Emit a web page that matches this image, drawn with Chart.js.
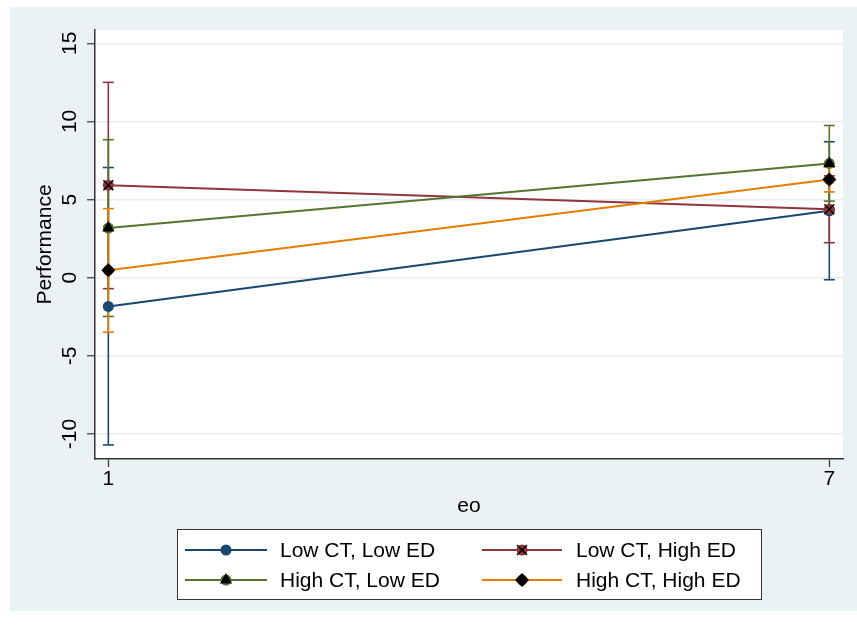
<!DOCTYPE html>
<html>
<head>
<meta charset="utf-8">
<script src="https://cdn.jsdelivr.net/npm/chart.js@4.4.1/dist/chart.umd.min.js"></script>
<style>
  html, body { margin: 0; padding: 0; background: #fff; }
  #wrap { width: 857px; height: 626px; }
</style>
</head>
<body>
<div id="wrap"><canvas id="marginsChart"></canvas></div>
<script>
// Data
const eoValues = [1, 7];
const seriesNames = ['Low CT, Low ED', 'Low CT, High ED', 'High CT, Low ED', 'High CT, High ED'];

// predicted performance
const lowLow = [-1.84, 4.28];
const lowHigh = [5.92, 4.38];
const highLow = [3.18, 7.31];
const highHigh = [0.47, 6.28];

// confidence interval bounds
const lowLowLo = [-10.7, -0.13];
const lowLowHi = [7.05, 8.70];
const lowHighLo = [-0.70, 2.24];
const lowHighHi = [12.5, 6.52];
const highLowLo = [-2.48, 4.90];
const highLowHi = [8.83, 9.74];
const highHighLo = [-3.49, 5.49];
const highHighHi = [4.42, 7.07];

const yTicks = [-10, -5, 0, 5, 10, 15];
const xTicks = [1, 7];

// stata s2color palette
const colors = ['#1A476F', '#90353B', '#55752F', '#E37E00'];
const overlayStyles = [null, 'crossRot', 'triangle', 'rectRot'];

const means = [lowLow, lowHigh, highLow, highHigh];
const lows = [lowLowLo, lowHighLo, highLowLo, highHighLo];
const highs = [lowLowHi, lowHighHi, highLowHi, highHighHi];

const FONT = "'Liberation Sans', Arial, Helvetica, sans-serif";

function toPoints(vals) {
    return eoValues.map((x, i) => ({ x: x, y: vals[i] }));
}

const datasets = [];

// error bars (vertical line + caps)
means.forEach((m, s) => {
    eoValues.forEach((x, i) => {
        datasets.push({
            type: 'line',
            data: [{ x: x, y: lows[s][i] }, { x: x, y: highs[s][i] }],
            borderColor: colors[s],
            borderWidth: 1.6,
            pointStyle: 'line',
            pointRadius: 5.5,
            pointBorderColor: colors[s],
            pointBorderWidth: 1.6,
            order: 20 - s
        });
    });
});

// connected lines with colored circles
means.forEach((m, s) => {
    datasets.push({
        type: 'line',
        label: seriesNames[s],
        data: toPoints(m),
        borderColor: colors[s],
        borderWidth: 2,
        pointStyle: 'circle',
        pointRadius: 5.5,
        pointBackgroundColor: colors[s],
        pointBorderColor: colors[s],
        pointBorderWidth: 0,
        order: 10 - s
    });
});

// black symbols on top
means.forEach((m, s) => {
    if (!overlayStyles[s]) return;
    datasets.push({
        type: 'line',
        data: toPoints(m),
        showLine: false,
        pointStyle: overlayStyles[s],
        pointRadius: overlayStyles[s] === 'crossRot' ? 7 : 7,
        pointBackgroundColor: '#000',
        pointBorderColor: '#000',
        pointBorderWidth: overlayStyles[s] === 'crossRot' ? 1.5 : 0,
        order: 0
    });
});

// background + legend
const stataFrame = {
    id: 'stataFrame',
    beforeDraw(chart) {
        const c = chart.ctx;
        const a = chart.chartArea;
        c.save();
        c.fillStyle = '#EAF2F3';
        c.fillRect(10, 7, 847, 604);
        c.fillStyle = '#ffffff';
        c.fillRect(a.left, a.top, a.right - a.left, a.bottom - a.top);
        c.restore();
    },
    afterDraw(chart) {
        const c = chart.ctx;
        c.save();
        // box
        c.fillStyle = '#ffffff';
        c.fillRect(177, 529, 584, 70);
        c.strokeStyle = '#333333';
        c.lineWidth = 1;
        c.strokeRect(177.5, 529.5, 584, 70);

        const rows = [550, 580];
        const cols = [{ l0: 185, l1: 267, t: 280 }, { l0: 482, l1: 562, t: 576 }];
        const layout = [[0, 0, 0], [1, 0, 1], [2, 1, 0], [3, 1, 1]];
        layout.forEach(([s, r, k]) => {
            const y = rows[r];
            const col = cols[k];
            const mx = (col.l0 + col.l1) / 2;
            c.strokeStyle = colors[s];
            c.lineWidth = 2;
            c.beginPath();
            c.moveTo(col.l0, y);
            c.lineTo(col.l1, y);
            c.stroke();
            c.fillStyle = colors[s];
            c.beginPath();
            c.arc(mx, y, 5.5, 0, Math.PI * 2);
            c.fill();
            c.fillStyle = '#000';
            c.strokeStyle = '#000';
            if (overlayStyles[s] === 'crossRot') {
                c.lineWidth = 1.5;
                c.beginPath();
                c.moveTo(mx - 5, y - 5); c.lineTo(mx + 5, y + 5);
                c.moveTo(mx + 5, y - 5); c.lineTo(mx - 5, y + 5);
                c.stroke();
            } else if (overlayStyles[s] === 'triangle') {
                c.beginPath();
                c.moveTo(mx, y - 7);
                c.lineTo(mx + 6.1, y + 3.5);
                c.lineTo(mx - 6.1, y + 3.5);
                c.closePath();
                c.fill();
            } else if (overlayStyles[s] === 'rectRot') {
                c.beginPath();
                c.moveTo(mx, y - 7); c.lineTo(mx + 7, y);
                c.lineTo(mx, y + 7); c.lineTo(mx - 7, y);
                c.closePath();
                c.fill();
            }
            c.fillStyle = '#000';
            c.font = '21px ' + FONT;
            c.textBaseline = 'middle';
            c.textAlign = 'left';
            c.fillText(seriesNames[s], col.t, y + 1);
        });
        c.restore();
    }
};

const ctx = document.getElementById('marginsChart').getContext('2d');
const chart = new Chart(ctx, {
    type: 'line',
    data: { datasets: datasets },
    options: {
        responsive: true,
        maintainAspectRatio: false,
        animation: false,
        events: [],
        layout: { padding: { left: 10, right: 14, top: 30, bottom: 107 } },
        plugins: {
            legend: { display: false },
            tooltip: { enabled: false },
            title: { display: false }
        },
        scales: {
            x: {
                type: 'linear',
                min: 0.889,
                max: 7.114,
                afterBuildTicks: (scale) => { scale.ticks = xTicks.map(v => ({ value: v })); },
                afterFit: (scale) => { scale.height = 60; },
                grid: { drawOnChartArea: false, drawTicks: true, tickLength: 8, tickColor: '#333333', tickWidth: 1.2 },
                border: { display: true, color: '#333333', width: 1.5 },
                ticks: { color: '#000', font: { family: FONT, size: 21 }, padding: 0, maxRotation: 0 },
                title: { display: true, text: 'eo', color: '#000', font: { family: FONT, size: 21 }, padding: { top: 0, bottom: 0 } }
            },
            y: {
                type: 'linear',
                min: -11.6,
                max: 15.85,
                afterBuildTicks: (scale) => { scale.ticks = yTicks.map(v => ({ value: v })); },
                afterFit: (scale) => { scale.width = 85; },
                grid: { color: '#E6EEF0', lineWidth: 1.5, drawTicks: true, tickLength: 8, tickColor: '#333333', tickWidth: 1.2 },
                border: { display: true, color: '#333333', width: 1.5 },
                ticks: { color: '#000', font: { family: FONT, size: 21 }, padding: 2, minRotation: 90, maxRotation: 90, crossAlign: 'center' },
                title: { display: true, text: 'Performance', color: '#000', font: { family: FONT, size: 21 }, padding: { top: 23, bottom: 0 } }
            }
        }
    },
    plugins: [stataFrame]
});
</script>
</body>
</html>
